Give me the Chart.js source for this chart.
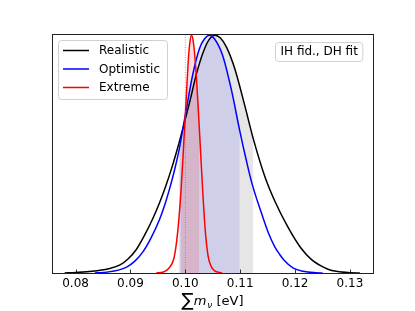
<!DOCTYPE html>
<html>
<head>
<meta charset="utf-8">
<script src="https://cdn.jsdelivr.net/npm/chart.js@4.4.1/dist/chart.umd.min.js"></script>
<style>
  body { margin: 0; background: #fff; }
</style>
</head>
<body>
<canvas id="massChart" width="415" height="311"></canvas>
<script>
// series (normalised posteriors)
const seriesNames = ['Realistic', 'Optimistic', 'Extreme'];
const seriesColors = ['#000000', '#0000ff', '#ff0000'];
const bandColors = ['rgba(128,128,128,0.2)', 'rgba(0,0,255,0.1)', 'rgba(255,0,0,0.13)'];

const realisticX = [0.0780, 0.0800, 0.0830, 0.0860, 0.0881, 0.0896, 0.0911, 0.0926, 0.0941, 0.0953, 0.0965, 0.0975, 0.0984, 0.0988, 0.0996, 0.1008, 0.1020, 0.1032, 0.1043, 0.1054, 0.1064, 0.1075, 0.1090, 0.1108, 0.1124, 0.1145, 0.1163, 0.1187, 0.1211, 0.1230, 0.1244, 0.1260, 0.1275, 0.1300, 0.1318];
const realisticY = [0.000, 0.002, 0.007, 0.018, 0.034, 0.060, 0.100, 0.160, 0.230, 0.295, 0.370, 0.440, 0.510, 0.543, 0.612, 0.720, 0.835, 0.925, 0.980, 1.000, 0.988, 0.950, 0.860, 0.707, 0.563, 0.405, 0.303, 0.193, 0.104, 0.056, 0.034, 0.016, 0.007, 0.001, 0.000];
const realisticBand = [0.0988, 0.1124];

const optimisticX = [0.0835, 0.0850, 0.0870, 0.0893, 0.0908, 0.0923, 0.0938, 0.0953, 0.0963, 0.0972, 0.0980, 0.0987, 0.0990, 0.1000, 0.1014, 0.1026, 0.1035, 0.1044, 0.1053, 0.1068, 0.1084, 0.1099, 0.1111, 0.1121, 0.1139, 0.1152, 0.1163, 0.1172, 0.1180, 0.1196, 0.1215, 0.1238, 0.1250];
const optimisticY = [0.000, 0.002, 0.008, 0.025, 0.050, 0.090, 0.150, 0.225, 0.290, 0.360, 0.430, 0.500, 0.535, 0.665, 0.840, 0.945, 0.985, 1.000, 0.985, 0.915, 0.770, 0.600, 0.475, 0.380, 0.250, 0.165, 0.110, 0.078, 0.054, 0.022, 0.007, 0.001, 0.000];
const optimisticBand = [0.0990, 0.1099];

const extremeX = [0.0947, 0.0960, 0.0970, 0.0979, 0.0984, 0.0988, 0.0992, 0.0996, 0.1001, 0.1005, 0.1008, 0.1011, 0.1014, 0.1017, 0.1020, 0.1025, 0.1028, 0.1032, 0.1035, 0.1038, 0.1042, 0.1047, 0.1053, 0.1060, 0.1067];
const extremeY = [0.000, 0.004, 0.020, 0.060, 0.130, 0.220, 0.340, 0.500, 0.710, 0.880, 0.965, 1.000, 0.980, 0.920, 0.830, 0.630, 0.500, 0.330, 0.220, 0.135, 0.065, 0.028, 0.010, 0.003, 0.000];
const extremeBand = [0.0992, 0.1025];

const fiducialSum = 0.10;
const xTicks = [0.08, 0.09, 0.10, 0.11, 0.12, 0.13];
const xRange = [0.0757, 0.1342];
const boxLabel = 'IH fid., DH fit';

const toPoints = (xs, ys) => xs.map((x, i) => ({ x: x, y: ys[i] }));
const inBand = (pts, band) => pts.filter(p => p.x >= band[0] - 1e-9 && p.x <= band[1] + 1e-9);

const curves = [
    toPoints(realisticX, realisticY),
    toPoints(optimisticX, optimisticY),
    toPoints(extremeX, extremeY)
];
const bands = [realisticBand, optimisticBand, extremeBand];

const datasets = [];
curves.forEach((pts, i) => {
    // shaded credible interval under each curve
    datasets.push({
        label: seriesNames[i] + ' band',
        data: inBand(pts, bands[i]),
        borderWidth: 0,
        backgroundColor: bandColors[i],
        fill: 'origin',
        pointRadius: 0,
        cubicInterpolationMode: 'monotone',
        order: 10 - i
    });
});
datasets.push({
    label: 'fiducial',
    data: [{ x: fiducialSum, y: 0 }, { x: fiducialSum, y: 1.1 }],
    borderColor: '#888888',
    borderWidth: 0.8,
    borderDash: [1, 1.5],
    pointRadius: 0,
    fill: false,
    order: 5
});
curves.forEach((pts, i) => {
    datasets.push({
        label: seriesNames[i],
        data: pts,
        borderColor: seriesColors[i],
        borderWidth: 1.5,
        pointRadius: 0,
        fill: false,
        cubicInterpolationMode: 'monotone',
        order: 3 - i
    });
});

const decorPlugin = {
    id: 'decor',
    afterDraw(chart) {
        const ctx = chart.ctx;
        const a = chart.chartArea;
        const x = chart.scales.x;
        ctx.save();

        // inward tick marks
        ctx.strokeStyle = '#000';
        ctx.lineWidth = 0.8;
        x.ticks.forEach(t => {
            const px = Math.round(x.getPixelForValue(t.value)) + 0.5;
            ctx.beginPath();
            ctx.moveTo(px, a.bottom);
            ctx.lineTo(px, a.bottom - 3.5);
            ctx.stroke();
        });

        // frame
        ctx.strokeStyle = '#222';
        ctx.lineWidth = 1;
        ctx.strokeRect(Math.round(a.left) + 0.5, Math.round(a.top) + 0.5,
            Math.round(a.right - a.left), Math.round(a.bottom - a.top));

        // legend
        const lx = a.left + 6, ly = a.top + 6;
        ctx.fillStyle = 'rgba(255,255,255,0.8)';
        ctx.strokeStyle = '#d0d0d0';
        ctx.beginPath();
        ctx.roundRect(lx + 0.5, ly + 0.5, 109, 59, 3);
        ctx.fill();
        ctx.stroke();
        ctx.font = '12px "DejaVu Sans"';
        ctx.textBaseline = 'middle';
        ctx.textAlign = 'left';
        seriesNames.forEach((name, i) => {
            const yy = ly + 10.5 + i * 18.5;
            ctx.strokeStyle = seriesColors[i];
            ctx.lineWidth = 1.5;
            ctx.beginPath();
            ctx.moveTo(lx + 5, yy);
            ctx.lineTo(lx + 31, yy);
            ctx.stroke();
            ctx.fillStyle = '#000';
            ctx.fillText(name, lx + 41, yy + 0.5);
        });

        // annotation box
        const tw = ctx.measureText(boxLabel).width;
        const bx = a.right - 11 - (tw + 10), by = a.top + 8;
        ctx.fillStyle = 'rgba(255,255,255,0.8)';
        ctx.strokeStyle = '#d0d0d0';
        ctx.lineWidth = 1;
        ctx.beginPath();
        ctx.roundRect(Math.round(bx) + 0.5, by + 0.5, tw + 10, 19, 3);
        ctx.fill();
        ctx.stroke();
        ctx.fillStyle = '#000';
        ctx.fillText(boxLabel, Math.round(bx) + 5.5, by + 10);

        // x axis title: sum m_nu [eV]
        const parts = [
            { t: '\u2211', f: '18px "DejaVu Sans"', dy: 1 },
            { t: 'm', f: 'italic 13px "DejaVu Sans"', dy: 0 },
            { t: '\u03bd', f: 'italic 9px "DejaVu Sans"', dy: 3 },
            { t: ' [eV]', f: '13px "DejaVu Sans"', dy: 0 }
        ];
        let total = 0;
        parts.forEach(p => { ctx.font = p.f; p.w = ctx.measureText(p.t).width; total += p.w + (p.t === 'm' ? 1 : 0); });
        let cx = (a.left + a.right) / 2 - total / 2;
        const base = 305;
        ctx.textBaseline = 'alphabetic';
        parts.forEach(p => {
            ctx.font = p.f;
            ctx.fillText(p.t, cx, base + p.dy);
            cx += p.w + (p.t === 'm' ? 1 : 0);
        });
        ctx.restore();
    }
};

new Chart(document.getElementById('massChart').getContext('2d'), {
    type: 'line',
    data: { datasets: datasets },
    options: {
        responsive: false,
        animation: false,
        devicePixelRatio: 1,
        layout: { padding: { left: 52, right: 42, top: 34, bottom: 0 } },
        plugins: {
            legend: { display: false },
            tooltip: { enabled: false }
        },
        scales: {
            x: {
                type: 'linear',
                min: xRange[0],
                max: xRange[1],
                grid: { display: false, drawTicks: false },
                border: { display: false },
                afterBuildTicks: s => { s.ticks = xTicks.map(v => ({ value: v })); },
                afterFit: s => { s.height = 38; },
                ticks: {
                    padding: 4,
                    color: '#000',
                    font: { family: 'DejaVu Sans', size: 12 },
                    maxRotation: 0,
                    callback: v => v.toFixed(2)
                }
            },
            y: {
                display: false,
                min: 0,
                max: 1.005
            }
        }
    },
    plugins: [decorPlugin]
});
</script>
</body>
</html>
